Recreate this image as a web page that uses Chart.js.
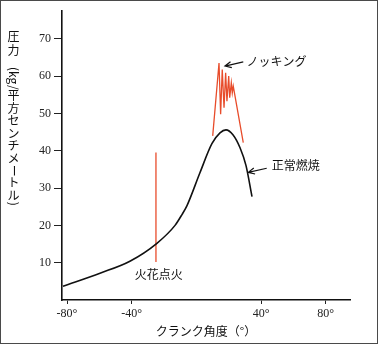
<!DOCTYPE html>
<html>
<head>
<meta charset="utf-8">
<script src="https://cdn.jsdelivr.net/npm/chart.js@4.4.1/dist/chart.umd.min.js"></script>
<style>
  html, body { margin: 0; padding: 0; background: #fff; }
  #frame { width: 376px; height: 342px; border: 1px solid #4a4a4a; }
  canvas { display: block; }
</style>
</head>
<body>
<div id="frame"><canvas id="c" width="376" height="342"></canvas></div>
<script>
// Crank angle (degrees) and cylinder pressure (kg/cm²), normal combustion
const normalAngle    = [-82.5, -59.6, -41.1, -24.4, -13.2, -8.9, -5.8, 2.2, 9.6, 14.6, 18.3, 22.6, 27.0, 30.7, 34.4];
const normalPressure = [3.7, 7.2, 10.4, 15.2, 20.0, 22.9, 25.3, 34.1, 41.9, 44.8, 45.6, 44.3, 40.8, 36.0, 27.7];

// Knocking pressure oscillation
const knockAngle    = [10.1, 14.0, 15.0, 16.0, 17.1, 18.1, 18.9, 20.0, 20.6, 21.6, 22.2, 22.8, 29.0];
const knockPressure = [44.0, 63.5, 49.8, 61.8, 51.5, 60.9, 53.3, 60.0, 54.2, 58.2, 55.5, 57.3, 42.2];

// Spark ignition marker
const sparkAngle    = [-25, -25];
const sparkPressure = [10.2, 39.5];

// Axis ticks
const xTicks = [-80, -40, 40, 80];
const yTicks = [10, 20, 30, 40, 50, 60, 70];

const RED = '#e84c2b';
const JP = '"Noto Sans CJK JP", sans-serif';
const NUM = '"Liberation Serif", "DejaVu Serif", serif';

const toPoints = (xs, ys) => xs.map((x, i) => ({ x, y: ys[i] }));

// Callouts, placed in data space
const callouts = [
  { text: 'ノッキング', tail: [29.0, 63.8], tip: [17.7, 62.7], label: [31.0, 64.0] },
  { text: '正常燃焼',   tail: [43.5, 35.3], tip: [32.1, 34.2], label: [46.6, 36.0] }
];
const sparkLabel = { text: '火花点火', at: [-23.3, 6.9] };

const annotations = {
  id: 'annotations',
  afterDatasetsDraw(chart) {
    const { ctx, scales: { x, y } } = chart;
    const px = p => [x.getPixelForValue(p[0]), y.getPixelForValue(p[1])];
    ctx.save();
    ctx.fillStyle = '#111';
    ctx.strokeStyle = '#111';
    ctx.lineWidth = 1.2;
    ctx.font = '12px ' + JP;
    ctx.textBaseline = 'middle';
    callouts.forEach(c => {
      const [tx, ty] = px(c.tail), [hx, hy] = px(c.tip);
      ctx.beginPath();
      ctx.moveTo(tx, ty);
      ctx.lineTo(hx, hy);
      const a = Math.atan2(hy - ty, hx - tx);
      const L = 7, s = 0.45;
      ctx.moveTo(hx - L * Math.cos(a - s), hy - L * Math.sin(a - s));
      ctx.lineTo(hx, hy);
      ctx.lineTo(hx - L * Math.cos(a + s), hy - L * Math.sin(a + s));
      ctx.stroke();
      const [lx, ly] = px(c.label);
      ctx.textAlign = 'left';
      ctx.fillText(c.text, lx, ly);
    });
    const [sx, sy] = px(sparkLabel.at);
    ctx.textAlign = 'center';
    ctx.fillText(sparkLabel.text, sx, sy);
    ctx.restore();
  }
};

// Vertical (tategaki) y-axis title
const verticalTitle = {
  id: 'verticalTitle',
  afterDraw(chart) {
    const { ctx } = chart;
    const cx = 12.5;
    ctx.save();
    ctx.fillStyle = '#111';
    ctx.font = '12px ' + JP;
    ctx.textAlign = 'center';
    ctx.textBaseline = 'middle';
    const column = (segments, startY, adv) => {
      let yy = startY;
      segments.forEach(seg => {
        if (seg.rot) {
          const w = ctx.measureText(seg.t).width;
          ctx.save();
          ctx.translate(cx, yy + w / 2);
          ctx.rotate(Math.PI / 2);
          ctx.fillText(seg.t, 0, 0);
          ctx.restore();
          yy += w;
        } else {
          for (const ch of seg.t) {
            ctx.fillText(ch, cx, yy + adv / 2);
            yy += adv;
          }
        }
      });
    };
    column([{ t: '圧力' }], 29, 13.3);
    column([
      { t: '(kg/', rot: true },
      { t: '平方センチメ' },
      { t: 'ー', rot: true },
      { t: 'トル' },
      { t: ')', rot: true }
    ], 66, 12.5);
    ctx.restore();
  }
};

new Chart(document.getElementById('c'), {
  type: 'line',
  data: {
    datasets: [
      {
        label: '正常燃焼',
        data: toPoints(normalAngle, normalPressure),
        borderColor: '#111',
        borderWidth: 1.6,
        pointRadius: 0,
        cubicInterpolationMode: 'monotone',
        fill: false
      },
      {
        label: 'ノッキング',
        data: toPoints(knockAngle, knockPressure),
        borderColor: RED,
        borderWidth: 1.3,
        pointRadius: 0,
        tension: 0,
        fill: false
      },
      {
        label: '火花点火',
        data: toPoints(sparkAngle, sparkPressure),
        borderColor: RED,
        borderWidth: 1.3,
        pointRadius: 0,
        fill: false
      }
    ]
  },
  options: {
    responsive: false,
    animation: false,
    devicePixelRatio: 1,
    layout: { padding: { top: 9, right: 27, left: 0, bottom: 0 } },
    plugins: { legend: { display: false }, tooltip: { enabled: false } },
    scales: {
      x: {
        type: 'linear',
        min: -83.1,
        max: 95,
        afterBuildTicks: s => { s.ticks = xTicks.map(v => ({ value: v })); },
        afterFit: s => { s.height = 43; },
        grid: { display: true, drawOnChartArea: false, drawTicks: true, tickLength: 4, color: '#222' },
        border: { display: true, color: '#111', width: 1.6 },
        ticks: {
          autoSkip: false, maxRotation: 0, padding: 3,
          color: '#222',
          font: { family: NUM, size: 12 },
          callback: v => v + '°'
        },
        title: {
          display: true,
          text: 'クランク角度（°）',
          color: '#111',
          font: { family: JP, size: 12 },
          padding: { top: 0, bottom: 4 }
        }
      },
      y: {
        type: 'linear',
        min: 0,
        max: 77.4,
        afterBuildTicks: s => { s.ticks = yTicks.map(v => ({ value: v })); },
        afterFit: s => { s.width = 61; },
        grid: { display: true, drawOnChartArea: false, drawTicks: true, tickLength: 8, color: '#222' },
        border: { display: true, color: '#111', width: 1.6 },
        ticks: {
          autoSkip: false, padding: 3,
          color: '#222',
          font: { family: NUM, size: 12 }
        }
      }
    }
  },
  plugins: [annotations, verticalTitle]
});
</script>
</body>
</html>
